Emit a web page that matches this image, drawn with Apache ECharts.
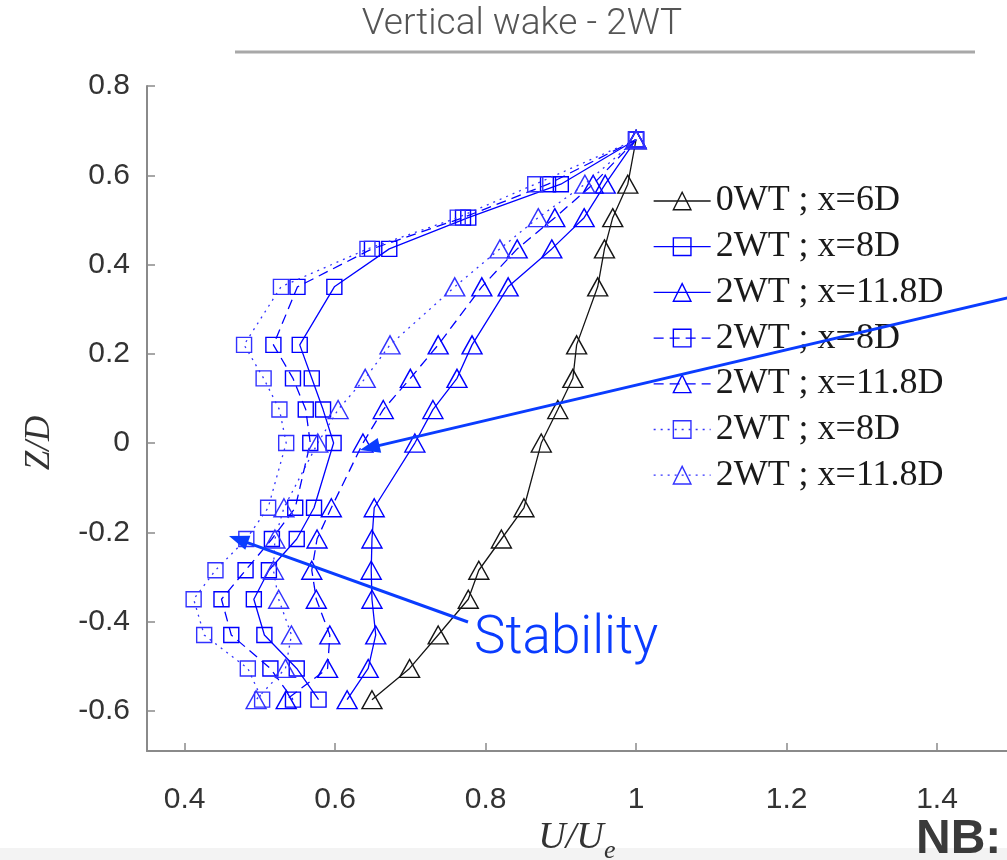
<!DOCTYPE html>
<html><head><meta charset="utf-8">
<script src="https://cdn.jsdelivr.net/npm/echarts@6/dist/echarts.min.js"></script>
<style>html,body{margin:0;padding:0;background:#fff}#c{width:1007px;height:860px}</style>
</head><body><div id="c"></div>
<script>
// ---- data ----
const zLevels = [0.68, 0.58, 0.505, 0.435, 0.35, 0.22, 0.145, 0.075, 0, -0.145, -0.215, -0.285, -0.35, -0.43, -0.505, -0.575];
const u0WT_6D        = [1.0, 0.989, 0.969, 0.958, 0.949, 0.921, 0.916, 0.896, 0.874, 0.851, 0.821, 0.791, 0.777, 0.737, 0.699, 0.649];
const u2WT_8D_solid  = [1.0, 0.900, 0.777, 0.672, 0.599, 0.553, 0.569, 0.584, 0.598, 0.572, 0.549, 0.512, 0.492, 0.506, 0.549, 0.578];
const u2WT_118D_solid= [1.0, 0.959, 0.931, 0.888, 0.830, 0.782, 0.762, 0.730, 0.706, 0.652, 0.649, 0.648, 0.649, 0.654, 0.644, 0.616];
const u2WT_8D_dash   = [1.0, 0.883, 0.770, 0.649, 0.550, 0.518, 0.544, 0.561, 0.567, 0.547, 0.516, 0.481, 0.449, 0.462, 0.514, 0.544];
const u2WT_118D_dash = [1.0, 0.943, 0.892, 0.842, 0.795, 0.737, 0.700, 0.664, 0.637, 0.595, 0.576, 0.569, 0.575, 0.593, 0.590, 0.535];
const u2WT_8D_dot    = [1.0, 0.866, 0.763, 0.643, 0.528, 0.479, 0.505, 0.526, 0.535, 0.511, 0.482, 0.441, 0.412, 0.426, 0.484, 0.503];
const u2WT_118D_dot  = [1.0, 0.932, 0.870, 0.819, 0.759, 0.673, 0.640, 0.604, 0.577, 0.532, 0.520, 0.518, 0.525, 0.542, 0.534, 0.495];
const legendLabels = ['0WT ; x=6D', '2WT ; x=8D', '2WT ; x=11.8D', '2WT ; x=8D', '2WT ; x=11.8D', '2WT ; x=8D', '2WT ; x=11.8D'];
const xTicks = [0.4, 0.6, 0.8, 1, 1.2, 1.4];
const yTicks = [-0.6, -0.4, -0.2, 0, 0.2, 0.4, 0.6, 0.8];
const titleText = 'Vertical wake - 2WT';
const noteText = 'Stability';

// ---- styling ----
const BLUE = 'rgb(0,0,255)';
const BLUE_DOT = 'rgb(50,50,255)';
const BLACK = '#151515';
const AXIS = '#8a8a8a';
const seriesDefs = [
  {u: u0WT_6D,         color: BLACK,   dash: 'solid', sym: 'triangle'},
  {u: u2WT_8D_solid,   color: BLUE,    dash: 'solid', sym: 'rect'},
  {u: u2WT_118D_solid, color: BLUE,    dash: 'solid', sym: 'triangle'},
  {u: u2WT_8D_dash,    color: BLUE,    dash: [10, 6], sym: 'rect'},
  {u: u2WT_118D_dash,  color: BLUE,    dash: [10, 6], sym: 'triangle'},
  {u: u2WT_8D_dot,     color: BLUE_DOT,dash: [2, 5],  sym: 'rect'},
  {u: u2WT_118D_dot,   color: BLUE_DOT,dash: [2, 5],  sym: 'triangle'}
];

const series = seriesDefs.map((d, i) => ({
  name: 's' + i,
  type: 'line',
  data: d.u.map((v, k) => [v, zLevels[k]]),
  symbol: d.sym,
  symbolSize: d.sym === 'rect' ? 15 : [20, 18],
  showAllSymbol: true,
  lineStyle: {color: d.color, width: 1.3, type: d.dash},
  itemStyle: {color: 'rgba(255,255,255,0)', borderColor: d.color, borderWidth: 1.4},
  emphasis: {disabled: true},
  z: 2 + i
}));

function arrow(x1, y1, x2, y2, color, w, headLen, headHalf) {
  const dx = x2 - x1, dy = y2 - y1, L = Math.hypot(dx, dy);
  const ux = dx / L, uy = dy / L, px = -uy, py = ux;
  const bx = x2 - ux * headLen, by = y2 - uy * headLen;
  return [
    {type: 'line', shape: {x1: x1, y1: y1, x2: bx + ux * 2, y2: by + uy * 2}, style: {stroke: color, lineWidth: w}, z: 100},
    {type: 'polygon', shape: {points: [[x2, y2], [bx + px * headHalf, by + py * headHalf], [bx - px * headHalf, by - py * headHalf]]}, style: {fill: color}, z: 100}
  ];
}
const ARROW = '#0a3cff';

const chart = echarts.init(document.getElementById('c'), null, {renderer: 'canvas'});
chart.setOption({
  animation: false,
  backgroundColor: '#fff',
  grid: {left: 147, top: 86, right: 0, bottom: 109, containLabel: false},
  xAxis: {
    type: 'value', min: 0.35, max: 1.493,
    axisLine: {onZero: false, lineStyle: {color: AXIS, width: 2}},
    axisTick: {inside: true, length: 8, customValues: xTicks, lineStyle: {color: AXIS, width: 1.5}},
    axisLabel: {customValues: xTicks, margin: 34, fontSize: 30, color: '#333', fontFamily: 'Liberation Sans'},
    splitLine: {show: false}
  },
  yAxis: {
    type: 'value', min: -0.69, max: 0.8,
    axisLine: {onZero: false, lineStyle: {color: AXIS, width: 2}},
    axisTick: {inside: true, length: 8, customValues: yTicks, lineStyle: {color: AXIS, width: 1.5}},
    axisLabel: {customValues: yTicks, margin: 17, fontSize: 30, color: '#333', fontFamily: 'Liberation Sans'},
    splitLine: {show: false}
  },
  legend: {
    orient: 'vertical', left: 653, top: 183, padding: 0,
    itemGap: 9.7, itemWidth: 57, itemHeight: 22,
    selectedMode: false,
    formatter: name => legendLabels[+name.slice(1)],
    textStyle: {fontFamily: 'Liberation Serif', fontSize: 36, color: '#1a1a1a', lineHeight: 30},
    itemStyle: {borderWidth: 1.4},
    lineStyle: {width: 1.3},
    data: series.map(s => s.name)
  },
  series: series,
  graphic: [
    {type: 'text', x: 522, y: 25, style: {text: titleText, fontFamily: 'Roboto', fontWeight: 300, fontSize: 37, fill: '#555', align: 'center', verticalAlign: 'middle'}, z: 100},
    {type: 'rect', shape: {x: 235, y: 50.5, width: 740, height: 3}, style: {fill: '#a8a8a8'}, z: 100},
    {type: 'text', x: 40, y: 443, rotation: Math.PI / 2, style: {text: 'Z/D', fontFamily: 'Liberation Serif', fontStyle: 'italic', fontSize: 35, fill: '#333', align: 'center', verticalAlign: 'middle'}, z: 100},
    {type: 'text', x: 571, y: 838, style: {text: 'U/U', fontFamily: 'Liberation Serif', fontStyle: 'italic', fontSize: 38, fill: '#333', align: 'center', verticalAlign: 'middle'}, z: 100},
    {type: 'text', x: 604, y: 851, style: {text: 'e', fontFamily: 'Liberation Serif', fontStyle: 'italic', fontSize: 26, fill: '#333', align: 'left', verticalAlign: 'middle'}, z: 100},
    ...arrow(1010, 297.3, 360, 450, ARROW, 3, 20, 7.5),
    ...arrow(468, 622, 229, 536, ARROW, 3, 20, 7.5),
    {type: 'text', x: 474, y: 640, style: {text: noteText, fontFamily: 'Roboto', fontWeight: 300, fontSize: 53, fill: ARROW, align: 'left', verticalAlign: 'middle'}, z: 100},
    {type: 'rect', shape: {x: 0, y: 848, width: 1007, height: 12}, style: {fill: '#f3f3f3'}, z: 90},
    {type: 'text', x: 916, y: 840, style: {text: 'NB:', fontFamily: 'Liberation Sans', fontWeight: 'bold', fontSize: 48, fill: '#3a3a3a', align: 'left', verticalAlign: 'middle'}, z: 100}
  ]
});
</script>
</body></html>
